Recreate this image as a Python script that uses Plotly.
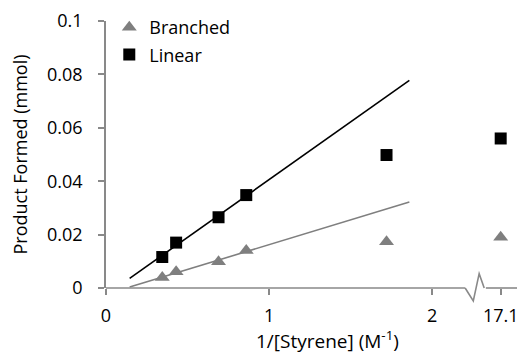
import numpy as np
import plotly.graph_objects as go

# ---------------- data ----------------
inv_styrene = [0.345, 0.43, 0.69, 0.86, 1.72, 17.1]          # 1/[Styrene] (M^-1)
branched = [0.0039, 0.0061, 0.0098, 0.014, 0.0173, 0.019]     # mmol
linear = [0.0116, 0.017, 0.0265, 0.0348, 0.0498, 0.056]       # mmol

x_tickvals = [0, 1, 2, 2.42]
x_ticktext = ["0", "1", "2", "17.1"]
y_tickvals = [0, 0.02, 0.04, 0.06, 0.08, 0.1]
y_ticktext = ["0", "0.02", "0.04", "0.06", "0.08", "0.1"]

break_pos = 2.42          # axis position used for the value beyond the break
fit_points = 4            # trendlines fitted on the first 4 points
trend_backward = 0.2      # Excel-style backward forecast
trend_forward = 1.0       # Excel-style forward forecast

# ---------------- derived ----------------
x_plot = [v if v < 2.1 else break_pos for v in inv_styrene]
x_range = [0, 2.52]
x_fit = np.array(inv_styrene[:fit_points])
trend_x = np.array([x_fit[0] - trend_backward, x_fit[-1] + trend_forward])

def trend(yvals):
    m, b = np.polyfit(x_fit, np.array(yvals[:fit_points]), 1)
    return m * trend_x + b

GRAY = "#7f7f7f"
AXIS = "#898989"
FONT = "Open Sans"

fig = go.Figure()

fig.add_trace(go.Scatter(x=trend_x, y=trend(linear), mode="lines",
                         line=dict(color="black", width=1.6),
                         showlegend=False, hoverinfo="skip"))
fig.add_trace(go.Scatter(x=trend_x, y=trend(branched), mode="lines",
                         line=dict(color=GRAY, width=1.6),
                         showlegend=False, hoverinfo="skip"))
fig.add_trace(go.Scatter(x=x_plot, y=branched, mode="markers", name="Branched",
                         legendgroup="b",
                         marker=dict(symbol="triangle-up", size=13, color=GRAY)))
fig.add_trace(go.Scatter(x=x_plot, y=linear, mode="markers", name="Linear",
                         legendgroup="l",
                         marker=dict(symbol="square", size=12, color="black")))

# x-axis line with a break (drawn in paper coordinates)
def px(v):
    return (v - x_range[0]) / (x_range[1] - x_range[0])

plot_h = 353 - 21 - 65
dy = 13 / plot_h
b0, b1, b2, b3 = 2.202, 2.252, 2.288, 2.319
shapes = [
    dict(type="line", xref="paper", yref="paper", x0=0, x1=px(b0), y0=0, y1=0,
         line=dict(color=AXIS, width=1.6)),
    dict(type="path", xref="paper", yref="paper",
         path=f"M {px(b0)},0 L {px(b1)},{-dy} L {px(b2)},{dy*1.1} L {px(b3)},0",
         line=dict(color=AXIS, width=1.6)),
    dict(type="line", xref="paper", yref="paper", x0=px(b3) + 0.004, x1=1, y0=0, y1=0,
         line=dict(color=AXIS, width=1.6)),
]

fig.update_layout(
    template="none",
    width=519, height=353,
    margin=dict(l=106, r=2, t=21, b=65, autoexpand=False),
    paper_bgcolor="white", plot_bgcolor="white",
    font=dict(family=FONT, size=18, color="black"),
    shapes=shapes,
    legend=dict(x=0.008, y=1.045, xanchor="left", yanchor="top",
                bgcolor="rgba(0,0,0,0)", traceorder="grouped", tracegroupgap=1,
                font=dict(size=18), itemwidth=30),
    annotations=[dict(text="1/[Styrene] (M<sup>-1</sup>)", xref="paper", yref="paper",
                      x=0.54, y=-0.195, xanchor="center", yanchor="middle",
                      showarrow=False, font=dict(size=19))],
    xaxis=dict(range=x_range, tickvals=x_tickvals, ticktext=x_ticktext,
               automargin=False,
               showgrid=False, zeroline=False, showline=False,
               ticks="outside", ticklen=6, tickwidth=1.6, tickcolor=AXIS,
               ticklabelstandoff=5),
    yaxis=dict(range=[0, 0.1], tickvals=y_tickvals, ticktext=y_ticktext,
               automargin=False,
               showgrid=False, zeroline=False, showline=True,
               linecolor=AXIS, linewidth=1.6,
               ticks="outside", ticklen=6, tickwidth=1.6, tickcolor=AXIS,
               ticklabelstandoff=12,
               title=dict(text="Product Formed (mmol)", standoff=15,
                          font=dict(size=18))),
)

fig.write_html("out.html", config={"displayModeBar": False},
               post_script="document.body.style.margin='0';document.body.style.overflow='hidden';")
